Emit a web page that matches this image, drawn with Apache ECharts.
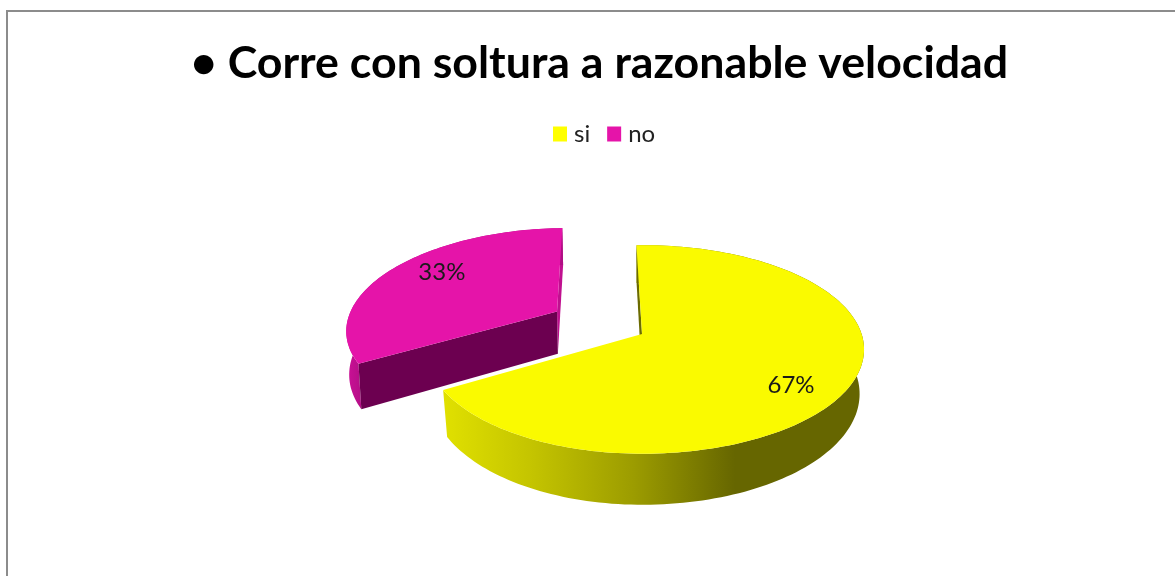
<!DOCTYPE html>
<html>
<head>
<meta charset="utf-8">
<style>
html, body { margin: 0; padding: 0; background: #fff; }
#Chart { width: 1175px; height: 576px; }
</style>
<script src="https://cdn.jsdelivr.net/npm/echarts@6/dist/echarts.min.js"></script>
</head>
<body>
<div id="Chart"></div>
<script>
var titleText = "\u2022 Corre con soltura a razonable velocidad";
var categories = ["si", "no"];
var values = [67, 33];
var labels = ["67%", "33%"];

var topColors = ["#fafa00", "#e514a9"];
var legendColors = ["#ffff00", "#e514a9"];
var explode = [0, 0.47];
var shrink = [0.98, 0.99];
var labelRadius = [0.785, 0.76];
var labelShift = [7.5, 6.6];

// pie projection, the 3d look is a disc seen in perspective
var cx = 642, cy = 334, rx = 219.6, ry = 102, persp = 0.148;
var leftSquash = 0.972;
var depth = 43.5;
var startAngle = -1.7;

var total = 0;
for (var i = 0; i < values.length; i++) total += values[i];

function project(X, Y, lowShrink){
    var w = 1 / (1 - persp * Y);
    var x = cx + rx * X * w * (X < 0 ? leftSquash : 1);
    var y = cy + ry * Y * w;
    if (lowShrink){
        x = cx + (x - cx) * lowShrink;
        y = y + depth * w;
    }
    return [x, y];
}

function sliceRange(index){
    var from = startAngle;
    for (var i = 0; i < index; i++) from += values[i] / total * 360;
    return [from, from + values[index] / total * 360];
}

function unit(deg){
    var a = deg * Math.PI / 180;
    return [Math.sin(a), -Math.cos(a)];
}

function arc(center, from, to, lowShrink){
    var pts = [];
    var n = Math.ceil((to - from) / 1.5);
    for (var i = 0; i <= n; i++){
        var u = unit(from + (to - from) * i / n);
        pts.push(project(center[0] + u[0], center[1] + u[1], lowShrink));
    }
    return pts;
}

function poly(points, fill){
    return {type: "polygon", shape: {points: points}, style: {fill: fill, stroke: null}};
}

function grad(x0, x1, stops){
    return new echarts.graphic.LinearGradient(x0, 0, x1, 0, stops, true);
}

var wallFill = [
    grad(445, 735, [
        {offset: 0, color: "#e0e000"},
        {offset: 0.3, color: "#c4c400"},
        {offset: 0.65, color: "#9c9c00"},
        {offset: 1, color: "#666600"}
    ]),
    grad(344, 364, [
        {offset: 0, color: "#d0129a"},
        {offset: 1, color: "#b00e84"}
    ])
];
// walls along the two straight edges of each slice, null when it faces away
var startWall = ["#6b6b00", "#6c0050"];
var endWall = [null, "#c0108f"];

function drawSlice(index){
    var range = sliceRange(index);
    var midAngle = (range[0] + range[1]) / 2;
    var mid = unit(midAngle);
    var center = [mid[0] * explode[index], mid[1] * explode[index]];
    var topArc = arc(center, range[0], range[1]);
    var lowArc = arc(center, range[0], range[1], shrink[index]);
    var apex = project(center[0], center[1]);
    var apexLow = project(center[0], center[1], shrink[index]);
    var first = topArc[0], last = topArc[topArc.length - 1];
    var firstLow = lowArc[0], lastLow = lowArc[lowArc.length - 1];

    var labDir = unit(midAngle + labelShift[index]);
    var lab = project(center[0] + labDir[0] * labelRadius[index], center[1] + labDir[1] * labelRadius[index]);

    var children = [];
    if (endWall[index]) children.push(poly([apex, last, lastLow, apexLow], endWall[index]));
    children.push(poly(topArc.concat(lowArc.slice().reverse()), wallFill[index]));
    children.push(poly([apex, first, firstLow, apexLow], startWall[index]));
    children.push(poly([apex].concat(topArc), topColors[index]));
    children.push({
        type: "text",
        style: {
            x: lab[0], y: lab[1],
            text: labels[index],
            fill: "#1a1a1a",
            font: "24px Lato",
            align: "center",
            verticalAlign: "middle"
        }
    });
    return {type: "group", children: children};
}

var Chart = echarts.init(document.getElementById("Chart"));

var series = [];
// the far slice goes first so the near one paints over it
for (var s = categories.length - 1; s >= 0; s--){
    (function(index){
        series.push({
            type: "custom",
            name: categories[index],
            coordinateSystem: "none",
            silent: true,
            data: [values[index]],
            itemStyle: {color: legendColors[index]},
            renderItem: function(){
                return drawSlice(index);
            }
        });
    })(s);
}

var option = {
    animation: false,
    backgroundColor: "#fff",
    title: {
        text: titleText,
        left: 594.5,
        top: 36,
        textAlign: "center",
        textStyle: {
            color: "#000",
            fontFamily: "Lato",
            fontWeight: "bold",
            fontSize: 44.7
        }
    },
    legend: {
        data: categories,
        left: 548,
        top: 117,
        icon: "rect",
        itemWidth: 14,
        itemHeight: 15,
        itemGap: 17,
        selectedMode: false,
        textStyle: {color: "#222", fontFamily: "Lato", fontSize: 24, padding: [0, 0, 0, 2]}
    },
    graphic: [{
        type: "polyline",
        silent: true,
        shape: {points: [[7, 576], [7, 11], [1175, 11]]},
        style: {stroke: "#8c8c8c", lineWidth: 2, fill: null}
    }],
    series: series
};
Chart.setOption(option);
</script>
</body>
</html>
